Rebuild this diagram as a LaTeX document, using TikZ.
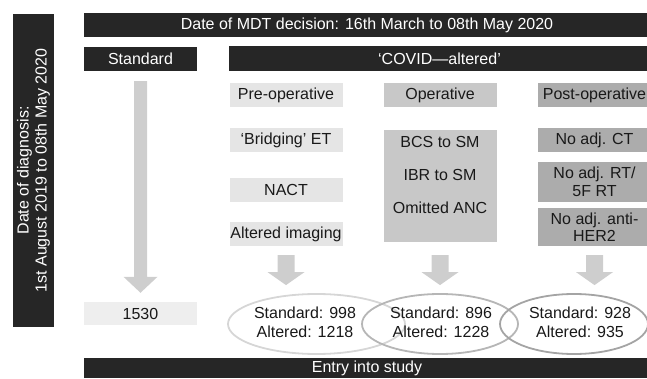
\documentclass[tikz,border=0pt]{standalone}
\usepackage{fontspec}
\setmainfont{Liberation Sans}
\usetikzlibrary{positioning,shapes.geometric,calc}

\definecolor{barblack}{RGB}{38,38,38}
\definecolor{inkblack}{RGB}{25,25,25}
\definecolor{pregray}{RGB}{229,229,229}
\definecolor{opgray}{RGB}{200,200,200}
\definecolor{postgray}{RGB}{172,172,172}
\definecolor{arrowgray}{RGB}{206,206,206}
\definecolor{countgray}{RGB}{238,238,238}
\definecolor{ringone}{RGB}{214,214,214}
\definecolor{ringtwo}{RGB}{182,182,182}
\definecolor{ringthree}{RGB}{164,164,164}

\tikzset{
  txt/.style={font=\fontsize{16}{17.5}\selectfont, text=inkblack, inner sep=0pt, align=center},
  darkbar/.style={txt, fill=barblack, text=white, minimum height=24pt},
  colbox/.style={txt, minimum width=113pt, minimum height=24pt},
  ring/.style={ellipse, draw, line width=1.8pt, inner sep=0pt, minimum height=60pt}
}

\newcommand{\blockarr}[6]{%
  \fill[#6] ($(#1)+(-#3,0)$) -- ($(#1)+(#3,0)$) -- ($(#2)+(#3,-#5)$) -- ($(#2)+(#4,-#5)$)
    -- (#2) -- ($(#2)+(-#4,-#5)$) -- ($(#2)+(-#3,-#5)$) -- cycle;}

\begin{document}
\begin{tikzpicture}[x=1pt, y=-1pt]
  \useasboundingbox (0,0) rectangle (647,379);

  \node[darkbar, rotate=90, minimum width=313pt, minimum height=41pt] (diag) at (33.5,170.5)
    {Date of diagnosis:\\[0.5pt]1st August 2019 to 08th May 2020};
  \node[darkbar, minimum width=566pt] (mdt) at (367,25) {Date of MDT decision: 16th March to 08th May 2020};

  \node[darkbar, minimum width=113pt] (std) at (140.5,59) {Standard};
  \node[darkbar, minimum width=421pt, minimum height=25pt] (covid) at (439.5,58.5) {‘COVID—altered’};

  \node[colbox, fill=pregray] (pre) at (286,95) {Pre-operative};
  \node[colbox, fill=opgray] (op) at (440,95) {Operative};
  \node[colbox, fill=postgray] (post) at (594.5,95) {Post-operative};

  \node[colbox, fill=pregray] (bridge) at (286,140) {‘Bridging’ ET};
  \node[colbox, fill=pregray] (nact) at (286,190) {NACT};
  \node[colbox, fill=pregray] (altimg) at (286,234) {Altered imaging};

  \node[colbox, fill=opgray, minimum height=112pt] (opbox) at (440,186) {};
  \node[txt] (bcs) at (440,142) {BCS to SM};
  \node[txt] (ibr) at (440,175) {IBR to SM};
  \node[txt] (anc) at (440,208) {Omitted ANC};

  \node[colbox, fill=postgray] (noct) at (594.5,140) {No adj. CT};
  \node[colbox, fill=postgray, minimum height=40pt] (nort) at (594.5,182) {No adj. RT/\\5F RT};
  \node[colbox, fill=postgray, minimum height=38pt] (noher) at (594.5,227) {No adj. anti-\\HER2};

  \node[colbox, fill=countgray, minimum height=23pt] (total) at (140.5,313.5) {1530};

  \node[ring, draw=ringone, minimum width=177pt] (eone) at (316.5,324) {};
  \node[ring, draw=ringtwo, minimum width=156pt] (etwo) at (440,324) {};
  \node[ring, draw=ringthree, minimum width=148pt] (ethree) at (574,324) {};
  \node[txt] (sone) at (305,322.5) {Standard: 998\\[1.5pt]Altered: 1218};
  \node[txt] (stwo) at (441,322.5) {Standard: 896\\[1.5pt]Altered: 1228};
  \node[txt] (sthree) at (580,322.5) {Standard: 928\\[1.5pt]Altered: 935};

  \node[darkbar, minimum width=566pt, minimum height=20pt] (entry) at (367,368) {Entry into study};

  \coordinate (bigtop) at ($(std.south)+(0,10)$);
  \coordinate (bigtip) at ($(total.north)+(0,-9)$);
  \blockarr{bigtop}{bigtip}{6.5}{17}{16}{arrowgray}

  \foreach \col/\ring in {pre/eone, op/etwo, post/ethree} {
    \coordinate (\col-top) at ($(\col.south |- altimg.south)+(0,9)$);
    \coordinate (\col-tip) at ($(\col.south |- \ring.north)+(0,-8)$);
    \blockarr{\col-top}{\col-tip}{8.5}{18.5}{13}{arrowgray}
  }
\end{tikzpicture}
\end{document}
